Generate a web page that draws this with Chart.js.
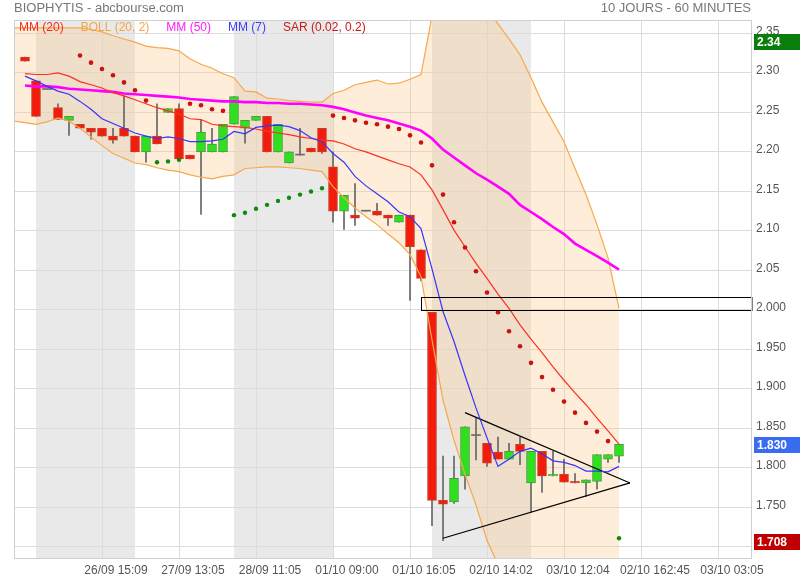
<!DOCTYPE html>
<html>
<head>
<meta charset="utf-8">
<script src="https://cdn.jsdelivr.net/npm/chart.js@4.4.0/dist/chart.umd.min.js"></script>
<style>
  body { margin: 0; background: #fff; }
  canvas { display: block; }
</style>
</head>
<body>
<canvas id="chart" width="800" height="580"></canvas>
<script>
// hourly candles, index 0..54
const opens  = [2.320,2.290,2.279,2.256,2.240,2.235,2.230,2.230,2.220,2.230,2.220,2.200,2.220,2.250,2.255,2.196,2.200,2.200,2.200,2.235,
                2.230,2.240,2.245,2.200,2.186,2.196,2.205,2.230,2.181,2.125,2.120,2.125,2.125,2.120,2.111,2.120,2.076,1.997,1.759,1.757,
                1.790,1.841,1.831,1.820,1.811,1.830,1.781,1.821,1.790,1.792,1.783,1.781,1.783,1.811,1.815];
const highs  = [2.320,2.290,2.279,2.261,2.245,2.235,2.230,2.230,2.230,2.271,2.220,2.220,2.261,2.255,2.261,2.196,2.241,2.230,2.235,2.270,
                2.240,2.245,2.245,2.235,2.200,2.230,2.205,2.230,2.200,2.145,2.160,2.125,2.135,2.120,2.120,2.120,2.076,1.997,1.815,1.815,
                1.852,1.863,1.831,1.839,1.831,1.839,1.821,1.821,1.821,1.811,1.793,1.785,1.817,1.817,1.830];
const lows   = [2.315,2.245,2.279,2.241,2.221,2.230,2.216,2.220,2.211,2.220,2.200,2.187,2.210,2.250,2.191,2.191,2.121,2.200,2.200,2.235,
                2.211,2.240,2.200,2.200,2.186,2.196,2.200,2.198,2.111,2.102,2.107,2.125,2.120,2.107,2.111,2.012,2.037,1.727,1.708,1.755,
                1.773,1.810,1.802,1.811,1.811,1.804,1.744,1.769,1.790,1.782,1.781,1.764,1.773,1.807,1.807];
const closes = [2.315,2.245,2.279,2.241,2.245,2.230,2.225,2.220,2.215,2.220,2.200,2.220,2.210,2.255,2.191,2.191,2.225,2.210,2.235,2.270,
                2.240,2.245,2.200,2.235,2.200,2.196,2.200,2.200,2.125,2.145,2.116,2.125,2.120,2.116,2.120,2.080,2.040,1.759,1.754,1.787,
                1.852,1.841,1.806,1.811,1.821,1.821,1.821,1.790,1.792,1.782,1.781,1.785,1.817,1.817,1.830];

const mm7  = [2.296,2.290,2.283,2.277,2.273,2.264,2.254,2.242,2.236,2.230,2.224,2.220,2.217,2.219,2.217,2.213,2.213,2.214,2.216,2.226,
              2.223,2.231,2.233,2.234,2.232,2.227,2.218,2.213,2.198,2.187,2.169,2.157,2.147,2.137,2.124,2.118,2.103,2.052,1.998,1.960,
              1.917,1.876,1.838,1.802,1.811,1.821,1.825,1.818,1.809,1.807,1.803,1.796,1.796,1.795,1.802];
const mm20 = [2.299,2.298,2.298,2.300,2.296,2.289,2.285,2.281,2.275,2.271,2.266,2.261,2.256,2.252,2.248,2.242,2.241,2.235,2.233,2.232,
              2.231,2.229,2.226,2.224,2.222,2.219,2.217,2.215,2.214,2.210,2.204,2.200,2.195,2.190,2.185,2.181,2.171,2.152,2.127,2.101,
              2.080,2.059,2.040,2.020,2.002,1.981,1.963,1.946,1.928,1.911,1.895,1.880,1.863,1.847,1.830];
const mm50 = [2.284,2.283,2.283,2.282,2.280,2.279,2.278,2.277,2.276,2.274,2.273,2.272,2.271,2.270,2.269,2.267,2.266,2.265,2.264,2.264,
              2.263,2.263,2.262,2.262,2.261,2.261,2.260,2.259,2.257,2.254,2.250,2.246,2.243,2.240,2.236,2.232,2.227,2.217,2.203,2.193,
              2.183,2.173,2.165,2.156,2.147,2.133,2.124,2.115,2.105,2.096,2.084,2.076,2.068,2.060,2.051];
// Bollinger band starts one slot before the first candle (index -1)
const bollUpper = [2.357,2.357,2.357,2.357,2.357,2.357,2.357,2.355,2.352,2.347,2.343,2.339,2.334,2.332,2.331,2.328,2.318,2.311,2.306,2.299,
                   2.294,2.277,2.276,2.268,2.267,2.265,2.264,2.263,2.263,2.274,2.278,2.285,2.288,2.291,2.286,2.287,2.292,2.298,2.372,2.400,
                   2.410,2.410,2.400,2.381,2.362,2.343,2.323,2.294,2.263,2.238,2.213,2.179,2.146,2.108,2.066,2.002];
const bollLower = [2.239,2.237,2.235,2.238,2.243,2.239,2.230,2.219,2.208,2.198,2.192,2.186,2.184,2.180,2.177,2.175,2.171,2.168,2.166,2.169,
                   2.171,2.179,2.180,2.181,2.181,2.180,2.179,2.177,2.175,2.156,2.142,2.129,2.118,2.108,2.096,2.085,2.070,2.042,1.962,1.886,
                   1.835,1.792,1.753,1.708,1.678,1.661,1.639,1.633,1.628,1.618,1.610,1.611,1.614,1.619,1.628,1.659];
const sarAbove = [null,null,null,null,null,2.322,2.313,2.305,2.297,2.288,2.278,2.265,null,null,null,2.261,2.259,2.254,2.252,null,
                  null,null,null,null,null,null,null,null,2.246,2.243,2.240,2.237,2.235,2.232,2.229,2.221,2.212,2.183,2.146,2.111,
                  2.079,2.049,2.022,1.997,1.973,1.954,1.933,1.915,1.899,1.884,1.870,1.857,1.846,1.834,null];
const sarBelow = [null,null,null,null,null,null,null,null,null,null,null,null,2.187,2.188,2.190,null,null,null,null,2.120,
                  2.123,2.128,2.133,2.138,2.142,2.146,2.150,2.154,null,null,null,null,null,null,null,null,null,null,null,null,
                  null,null,null,null,null,null,null,null,null,null,null,null,null,null,1.711];

// triangle drawn on the chart: [index, price]
const triUpper = [[40, 1.870], [55, 1.781]];
const triLower = [[38, 1.711], [55, 1.781]];
// gap box: from index, top price, bottom price
const gapBox = [36, 2.0165, 1.9995];
// shaded days (index ranges)
const shadeBands = [[1, 10], [19, 28], [37, 46]];

const xTickPos = [7, 14, 21, 28, 35, 42, 49, 56, 63];
const xLabels = ['26/09 15:09', '27/09 13:05', '28/09 11:05', '01/10 09:00', '01/10 16:05',
                 '02/10 14:02', '03/10 12:04', '02/10 162:45', '03/10 03:05'];
const yTicks = [1.70, 1.75, 1.80, 1.85, 1.90, 1.95, 2.00, 2.05, 2.10, 2.15, 2.20, 2.25, 2.30, 2.35];

const valueTags = [['2.34', 2.34, '#0b7d0b'], ['1.830', 1.830, '#3a6cf2'], ['1.708', 1.708, '#c00000']];
const legendItems = [['MM (20)', '#ff2a1a'], ['BOLL (20, 2)', '#f5a445'], ['MM (50)', '#ff1aff'],
                     ['MM (7)', '#3b3bff'], ['SAR (0.02, 0.2)', '#c81818']];

const RED = '#f21c0c', RED_B = '#c8402c', GREEN = '#2ee01e', GREEN_B = '#4a9a40', DOJI = '#6a6a6a';
const FONT = '"Liberation Sans", Arial, sans-serif';

const pts = arr => arr.map((v, i) => ({ x: i, y: v }));
const bodyColor = (i, up, down, flat) => closes[i] > opens[i] ? up : (closes[i] < opens[i] ? down : flat);

const decor = {
  id: 'decor',
  beforeDraw(chart) {
    const { ctx, chartArea: a, scales: { x } } = chart;
    ctx.save();
    ctx.fillStyle = '#e9e9e9';
    shadeBands.forEach(([s, e]) => {
      const x0 = x.getPixelForValue(s), x1 = x.getPixelForValue(e);
      ctx.fillRect(x0, a.top, x1 - x0, a.bottom - a.top);
    });
    ctx.restore();
  },
  afterDatasetsDraw(chart) {
    const { ctx, chartArea: a, scales: { x, y } } = chart;
    ctx.save();
    ctx.strokeStyle = '#000';
    ctx.lineWidth = 1;
    const gx = Math.round(x.getPixelForValue(gapBox[0])) + 0.5;
    const gy0 = Math.round(y.getPixelForValue(gapBox[1])) + 0.5;
    const gy1 = Math.round(y.getPixelForValue(gapBox[2])) + 0.5;
    ctx.strokeRect(gx, gy0, a.right - gx, gy1 - gy0);
    ctx.strokeStyle = '#cfcfcf';
    ctx.strokeRect(a.left + 0.5, a.top + 0.5, a.right - a.left - 1, a.bottom - a.top);
    ctx.restore();
  },
  afterDraw(chart) {
    const { ctx, chartArea: a, scales: { y } } = chart;
    ctx.save();
    ctx.textBaseline = 'middle';
    ctx.font = '13px ' + FONT;
    ctx.fillStyle = '#777';
    ctx.textAlign = 'left';
    ctx.fillText('BIOPHYTIS - abcbourse.com', 14, 8);
    ctx.textAlign = 'right';
    ctx.fillText('10 JOURS - 60 MINUTES', 751, 8);

    ctx.textAlign = 'left';
    ctx.font = '12px ' + FONT;
    let lx = 19;
    legendItems.forEach(([t, c]) => {
      ctx.fillStyle = c;
      ctx.fillText(t, lx, 28);
      lx += ctx.measureText(t).width + 17;
    });

    ctx.font = 'bold 12px ' + FONT;
    valueTags.forEach(([t, v, c]) => {
      const py = Math.round(y.getPixelForValue(v)) + 1;
      ctx.fillStyle = c;
      ctx.fillRect(a.right + 2, py - 8, 800 - a.right - 2, 16);
      ctx.fillStyle = '#fff';
      ctx.fillText(t, a.right + 5, py + 1);
    });
    ctx.restore();
  }
};

const lineDs = (label, data, color, width, order) => ({
  type: 'line', label, data: pts(data), borderColor: color, borderWidth: width,
  pointRadius: 0, tension: 0, fill: false, order
});

new Chart(document.getElementById('chart'), {
  type: 'bar',
  data: {
    datasets: [
      { type: 'line', label: 'SAR up', data: pts(sarAbove), showLine: false, pointRadius: 2.3,
        pointBackgroundColor: '#cc1111', pointBorderWidth: 0, order: 0 },
      { type: 'line', label: 'SAR down', data: pts(sarBelow), showLine: false, pointRadius: 2.2,
        pointBackgroundColor: '#0e8a0e', pointBorderWidth: 0, order: 0 },
      lineDs('MM (7)', mm7, '#3535ff', 1.2, 1),
      lineDs('MM (20)', mm20, '#ff3020', 1.2, 1),
      lineDs('MM (50)', mm50, '#ff00ff', 2.6, 1),
      { type: 'line', label: 'tri1', data: triUpper.map(([x, y]) => ({ x, y })), borderColor: '#000',
        borderWidth: 1.2, pointRadius: 0, fill: false, order: 1 },
      { type: 'line', label: 'tri2', data: triLower.map(([x, y]) => ({ x, y })), borderColor: '#000',
        borderWidth: 1.2, pointRadius: 0, fill: false, order: 1 },
      { type: 'line', label: 'BOLL up', data: bollUpper.map((v, i) => ({ x: i - 1, y: v })),
        borderColor: '#f6a84c', borderWidth: 1.2, pointRadius: 0, tension: 0,
        fill: '+1', backgroundColor: 'rgba(248, 200, 136, 0.32)', order: 2 },
      { type: 'line', label: 'BOLL low', data: bollLower.map((v, i) => ({ x: i - 1, y: v })),
        borderColor: '#f6a84c', borderWidth: 1.2, pointRadius: 0, tension: 0, fill: false, order: 2 },
      { type: 'bar', label: 'body', data: opens.map((o, i) => ({ x: i, y: [o, closes[i]] })),
        grouped: false, barThickness: 9, minBarLength: 1, borderSkipped: false,
        backgroundColor: opens.map((o, i) => bodyColor(i, GREEN, RED, DOJI)),
        borderColor: opens.map((o, i) => bodyColor(i, GREEN_B, RED_B, DOJI)),
        borderWidth: opens.map((o, i) => closes[i] === o ? 0 : 1), order: 3 },
      { type: 'bar', label: 'wick', data: lows.map((l, i) => ({ x: i, y: [l, highs[i]] })),
        grouped: false, barThickness: 1, borderSkipped: false, backgroundColor: '#666', borderWidth: 0, order: 4 }
    ]
  },
  options: {
    responsive: false,
    animation: false,
    layout: { padding: { left: 14, top: 20, right: 0, bottom: 0 } },
    plugins: {
      legend: { display: false },
      tooltip: { enabled: false },
      filler: { drawTime: 'beforeDatasetsDraw' }
    },
    scales: {
      x: {
        type: 'linear', min: -1, max: 66.09, offset: false,
        afterBuildTicks: s => { s.ticks = xTickPos.map(v => ({ value: v })); },
        afterFit: s => { s.height = 22; },
        grid: { color: '#dcdcdc', drawTicks: false, offset: false },
        border: { display: false },
        ticks: {
          autoSkip: false, maxRotation: 0, labelOffset: 14, padding: 5,
          color: '#555', font: { size: 12, family: FONT },
          callback: (v, i) => xLabels[i]
        }
      },
      y: {
        position: 'right', min: 1.686, max: 2.367,
        afterBuildTicks: s => { s.ticks = yTicks.map(v => ({ value: v })); },
        afterFit: s => { s.width = 48; },
        grid: { color: '#dcdcdc', drawTicks: false },
        border: { display: false },
        ticks: {
          padding: 4, labelOffset: -2, color: '#555', font: { size: 12, family: FONT },
          callback: v => Math.abs(v - 1.70) < 1e-6 ? '' : (v > 2.02 ? v.toFixed(2) : v.toFixed(3))
        }
      }
    }
  },
  plugins: [decor]
});
</script>
</body>
</html>
